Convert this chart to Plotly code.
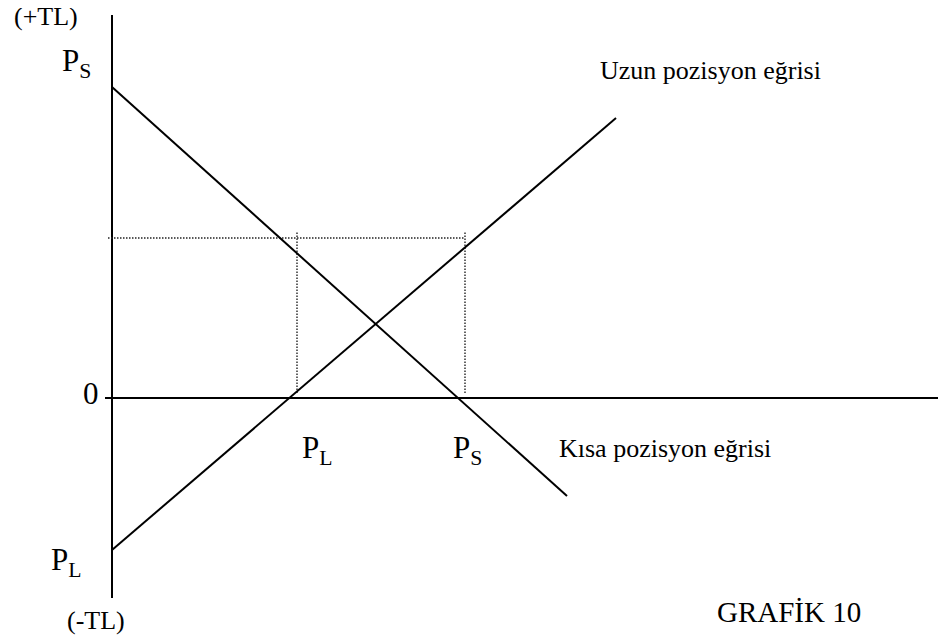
import plotly.graph_objects as go

# Diagram geometry in abstract units (origin = where the axes cross)
short_x = [0.0, 45.5]          # Kısa pozisyon eğrisi
short_y = [31.1, -9.8]
long_x = [0.0, 50.4]           # Uzun pozisyon eğrisi
long_y = [-15.2, 28.0]

vaxis_x = [0.0, 0.0]
vaxis_y = [-20.0, 38.3]
haxis_x = [-0.7, 83.4]
haxis_y = [0.0, 0.0]

guide_h_x = [-0.4, 35.3]
guide_h_y = [16.0, 16.0]
guide_v1_x = [18.5, 18.5]
guide_v1_y = [0.5, 16.6]
guide_v2_x = [35.3, 35.3]
guide_v2_y = [0.5, 16.6]

label_texts = ["(+TL)", "P<sub>S</sub>", "0", "P<sub>L</sub>", "(-TL)",
               "P<sub>L</sub>", "P<sub>S</sub>",
               "Uzun pozisyon eğrisi", "Kısa pozisyon eğrisi"]
label_x = [-10.0, -5.2, -3.1, -6.3, -4.7, 18.8, 33.9, 48.6, 44.5]
label_y = [38.2, 33.5, 0.5, -16.4, -22.2, -5.2, -5.2, 32.8, -5.0]
label_size = [26, 31, 31, 31, 26, 31, 31, 26, 26]

title_text = "GRAFİK 10"
title_x = 75.1
title_y = -21.4
title_size = 29

FONT = "Liberation Serif, Times New Roman, serif"

fig = go.Figure()

def line(xs, ys, width=2, dash="solid", color="black"):
    fig.add_trace(go.Scatter(x=xs, y=ys, mode="lines",
                             line=dict(color=color, width=width, dash=dash),
                             hoverinfo="skip", showlegend=False))

line(vaxis_x, vaxis_y)
line(haxis_x, haxis_y)
line(guide_h_x, guide_h_y, width=1.4, dash="1.5px,1.5px", color="#222")
line(guide_v1_x, guide_v1_y, width=1.4, dash="1.5px,1.5px", color="#222")
line(guide_v2_x, guide_v2_y, width=1.4, dash="1.5px,1.5px", color="#222")
line(short_x, short_y)
line(long_x, long_y)

for t, x, y, s in zip(label_texts, label_x, label_y, label_size):
    fig.add_annotation(x=x, y=y, text=t, showarrow=False, xanchor="left",
                       yanchor="middle", font=dict(family=FONT, size=s, color="black"))

fig.add_annotation(x=title_x, y=title_y, text=title_text, showarrow=False,
                   xanchor="right", yanchor="middle",
                   font=dict(family=FONT, size=title_size, color="black"))

# The page body adds an 8px margin, so the figure is 938x631 and the
# axis ranges are chosen so the drawing lands where the reference has it.
fig.update_layout(
    width=938, height=631,
    margin=dict(l=0, r=0, t=0, b=0),
    paper_bgcolor="white", plot_bgcolor="white",
    xaxis=dict(range=[-10.4, 83.4], visible=False, fixedrange=True),
    yaxis=dict(range=[-24.1, 39.0], visible=False, fixedrange=True),
)

fig.write_html("out.html")
